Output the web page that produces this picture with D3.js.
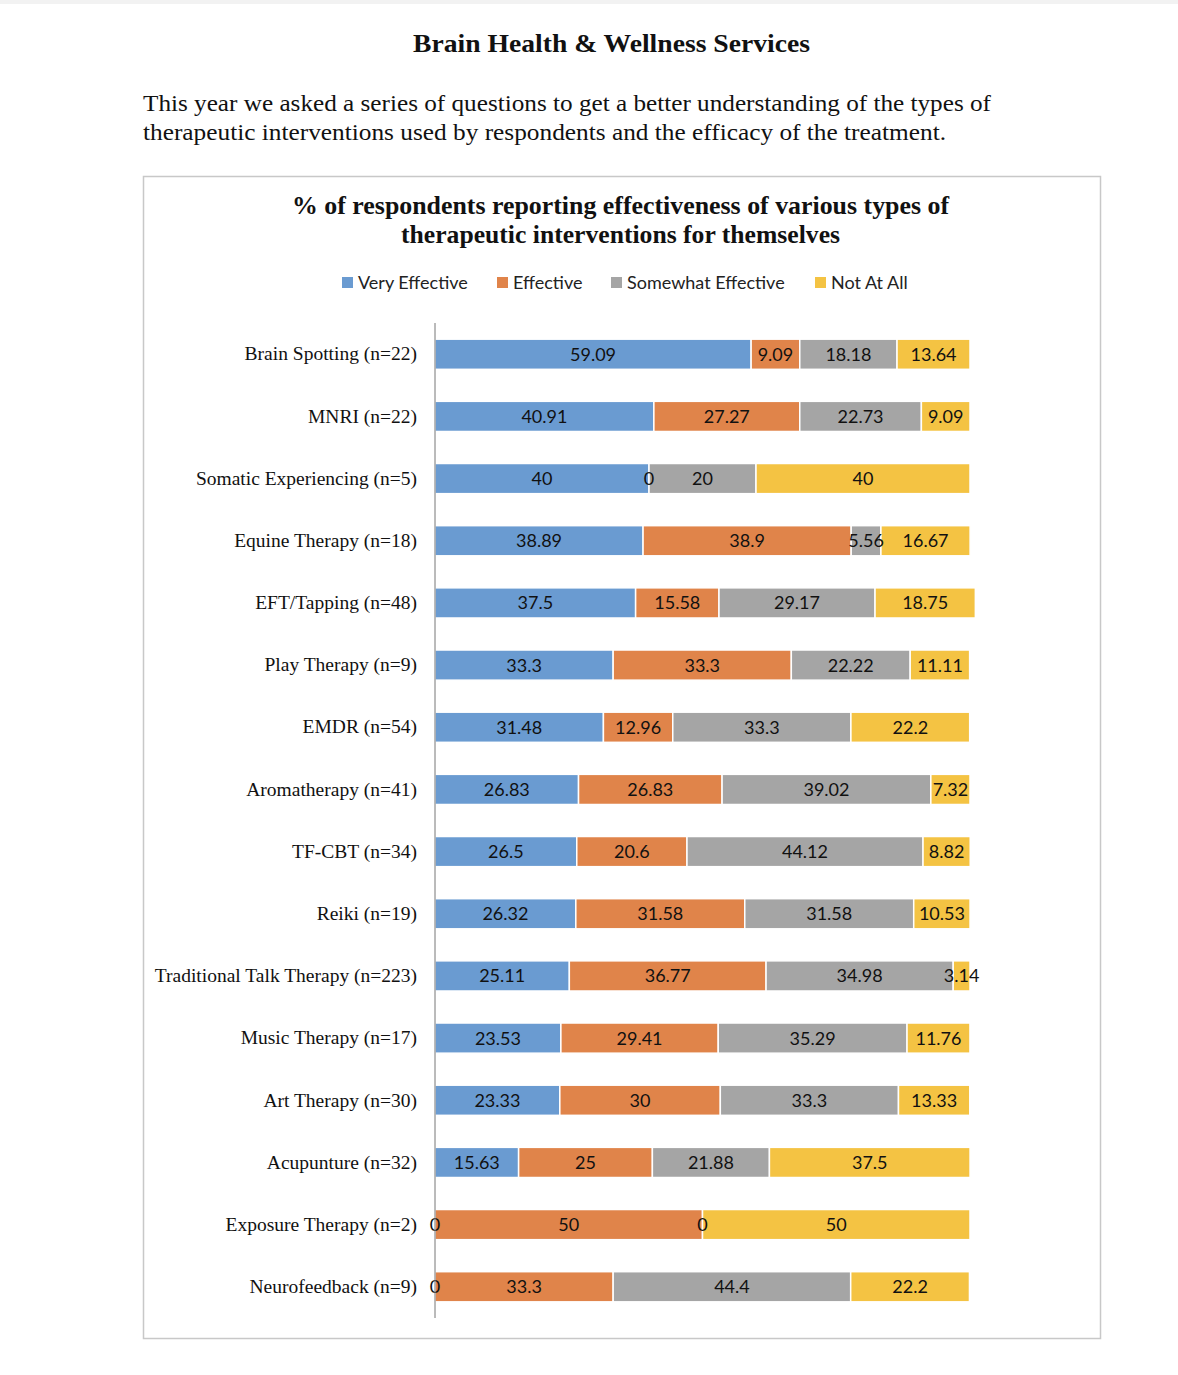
<!DOCTYPE html>
<html><head><meta charset="utf-8">
<script src="https://cdn.jsdelivr.net/npm/d3@7/dist/d3.min.js"></script>
<style>
body{margin:0;background:#fff;}
svg{display:block;}
</style></head>
<body>
<svg id="c" width="1178" height="1375"></svg>
<script>
const categories = ["Brain Spotting (n=22)","MNRI (n=22)","Somatic Experiencing (n=5)","Equine Therapy (n=18)","EFT/Tapping (n=48)","Play Therapy (n=9)","EMDR (n=54)","Aromatherapy (n=41)","TF-CBT (n=34)","Reiki (n=19)","Traditional Talk Therapy (n=223)","Music Therapy (n=17)","Art Therapy (n=30)","Acupunture (n=32)","Exposure Therapy (n=2)","Neurofeedback (n=9)"];
const seriesNames = ["Very Effective","Effective","Somewhat Effective","Not At All"];
const veryEffective = [59.09,40.91,40,38.89,37.5,33.3,31.48,26.83,26.5,26.32,25.11,23.53,23.33,15.63,0,0];
const effective = [9.09,27.27,0,38.9,15.58,33.3,12.96,26.83,20.6,31.58,36.77,29.41,30,25,50,33.3];
const somewhatEffective = [18.18,22.73,20,5.56,29.17,22.22,33.3,39.02,44.12,31.58,34.98,35.29,33.3,21.88,0,44.4];
const notAtAll = [13.64,9.09,40,16.67,18.75,11.11,22.2,7.32,8.82,10.53,3.14,11.76,13.33,37.5,50,22.2];
const colors = ["#6A9BD1","#E0844A","#A5A5A5","#F4C343"];

const svg = d3.select("#c");
const serif = "'Liberation Serif','Times New Roman',serif";
const sans = "Lato,'Open Sans',sans-serif";

svg.append("rect").attr("x",0).attr("y",0).attr("width",1178).attr("height",4).attr("fill","#f2f2f2");

svg.append("text").attr("x",611.5).attr("y",52).attr("text-anchor","middle")
  .attr("font-family",serif).attr("font-weight","bold").attr("font-size",26).attr("fill","#111")
  .attr("textLength",397).attr("lengthAdjust","spacingAndGlyphs")
  .text("Brain Health & Wellness Services");

const para = ["This year we asked a series of questions to get a better understanding of the types of",
              "therapeutic interventions used by respondents and the efficacy of the treatment."];
para.forEach((t,i)=>{
  svg.append("text").attr("x",143).attr("y",111+i*29).attr("font-family",serif)
    .attr("font-size",24).attr("fill","#111").attr("textLength",i==0?848:803).attr("lengthAdjust","spacingAndGlyphs").text(t);
});

svg.append("rect").attr("x",143.5).attr("y",176.5).attr("width",957).attr("height",1162)
  .attr("fill","#fff").attr("stroke","#c8c8c8").attr("stroke-width",1.5);

const ct = ["% of  respondents reporting effectiveness of  various types of","therapeutic interventions for themselves"];
const ctLen = [657,439];
ct.forEach((t,i)=>{
  svg.append("text").attr("x",620.5).attr("y",214+i*29).attr("text-anchor","middle")
    .attr("font-family",serif).attr("font-weight","bold").attr("font-size",25).attr("fill","#111")
    .attr("textLength",ctLen[i]).attr("lengthAdjust","spacingAndGlyphs").text(t);
});

// legend
const legX = [342,497,611,815];
seriesNames.forEach((n,i)=>{
  svg.append("rect").attr("x",legX[i]).attr("y",277).attr("width",11).attr("height",11).attr("fill",colors[i]);
  svg.append("text").attr("x",legX[i]+16).attr("y",289).attr("font-family",sans).attr("font-size",18)
    .attr("fill","#222").text(n);
});

const x = d3.scaleLinear().domain([0,100]).range([435,970]);
const y = d3.scaleBand().domain(categories).range([323,1318]).paddingInner(0.515).paddingOuter(0.26);

const rows = categories.map((c,i)=>({cat:c, vals:[veryEffective[i],effective[i],somewhatEffective[i],notAtAll[i]]}));
const g = svg.append("g");
rows.forEach(r=>{
  let acc=0;
  r.vals.forEach((v,j)=>{
    const x0=x(acc), x1=x(acc+v);
    g.append("rect").attr("x",x0).attr("y",y(r.cat)).attr("width",Math.max(0,x1-x0)).attr("height",y.bandwidth())
      .attr("fill",colors[j]).attr("stroke","#fff").attr("stroke-width",1.5);
    acc+=v;
  });
  acc=0;
  r.vals.forEach((v,j)=>{
    const x0=x(acc), x1=x(acc+v);
    g.append("text").attr("x",(x0+x1)/2).attr("y",y(r.cat)+y.bandwidth()/2+6.5).attr("text-anchor","middle")
      .attr("font-family",sans).attr("font-size",18).attr("fill","#111").text(v);
    acc+=v;
  });
});

// axis
const ax = svg.append("g").attr("transform","translate(435,0)").call(d3.axisLeft(y).tickSize(0).tickPadding(18));
ax.select(".domain").attr("stroke","#777").attr("d","M0,323V1318");
ax.selectAll("text").attr("font-family",serif).attr("font-size",19.5).attr("fill","#111");
</script>
</body></html>
